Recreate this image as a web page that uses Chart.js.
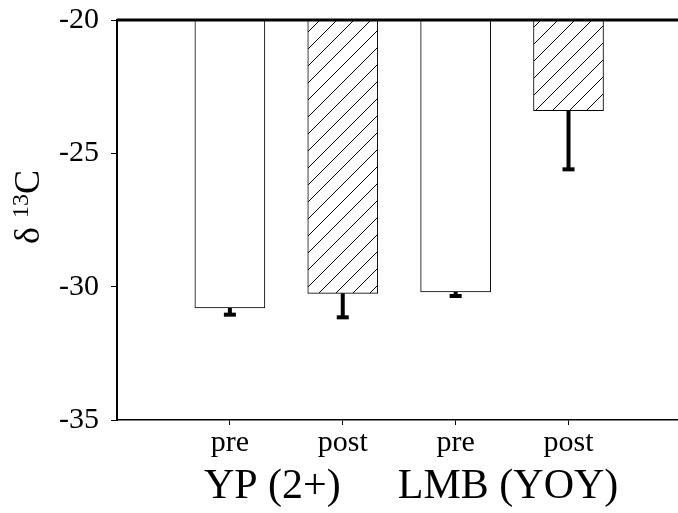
<!DOCTYPE html>
<html>
<head>
<meta charset="utf-8">
<script src="https://cdn.jsdelivr.net/npm/chart.js@4.4.0/dist/chart.umd.min.js"></script>
<style>
  html, body { margin: 0; padding: 0; background: #fff; }
  #wrap { width: 678px; height: 513px; }
</style>
</head>
<body>
<div id="wrap"><canvas id="isoChart" width="678" height="513"></canvas></div>
<script>
// Data
const categories = ["pre", "post", "pre", "post"];
const groups = ["YP (2+)", "LMB (YOY)"];
const means = [-30.8, -30.25, -30.2, -23.4];
const errLow = [-31.05, -31.15, -30.35, -25.6];
const yTicks = [-35, -30, -25, -20];
const hatched = [false, true, false, true];

const serif = "'Liberation Serif', 'Times New Roman', serif";

// diagonal hatch for the "post" bars
function makeHatch() {
  const s = 17;
  const c = document.createElement("canvas");
  c.width = s; c.height = s;
  const g = c.getContext("2d");
  g.fillStyle = "#fff";
  g.fillRect(0, 0, s, s);
  g.strokeStyle = "#000";
  g.lineWidth = 1;
  g.beginPath();
  g.moveTo(-1, s + 1); g.lineTo(s + 1, -1);
  g.moveTo(-1, 1); g.lineTo(1, -1);
  g.moveTo(s - 1, s + 1); g.lineTo(s + 1, s - 1);
  g.stroke();
  return g.createPattern(c, "repeat");
}

const ctx = document.getElementById("isoChart").getContext("2d");
const hatch = makeHatch();

// error bars, baseline line at -20, group labels and y title
const extras = {
  id: "extras",
  afterDatasetsDraw(chart) {
    const c = chart.ctx, x = chart.scales.x, y = chart.scales.y, a = chart.chartArea;
    c.save();
    c.strokeStyle = "#000";
    c.fillStyle = "#000";
    means.forEach((m, i) => {
      const px = x.getPixelForValue(i + 1);
      const y1 = y.getPixelForValue(m);
      const y2 = y.getPixelForValue(errLow[i]);
      c.lineWidth = 4;
      c.beginPath();
      c.moveTo(px, y1); c.lineTo(px, y2);
      c.stroke();
      c.fillRect(px - 6, y2 - 2, 12, 4);
    });
    // thick line at the bar origin
    c.lineWidth = 3;
    c.beginPath();
    c.moveTo(a.left, y.getPixelForValue(-20));
    c.lineTo(chart.width, y.getPixelForValue(-20));
    c.stroke();
    c.restore();
  },
  afterDraw(chart) {
    const c = chart.ctx, x = chart.scales.x;
    c.save();
    c.fillStyle = "#000";
    c.textAlign = "center";
    c.textBaseline = "alphabetic";
    c.font = "42px " + serif;
    groups.forEach((g, i) => {
      const px = (x.getPixelForValue(2 * i + 1) + x.getPixelForValue(2 * i + 2)) / 2;
      c.fillText(g, px - (i === 0 ? 14 : 4), 498);
    });
    // rotated y title: delta 13C
    c.translate(39, 207);
    c.rotate(-Math.PI / 2);
    c.textAlign = "left";
    const big = "36px " + serif, small = "24px " + serif;
    c.font = big;
    const w1 = c.measureText("\u03b4 ").width;
    const w3 = c.measureText("C").width;
    c.font = small;
    const w2 = c.measureText("13").width;
    let sx = -(w1 + w2 + w3) / 2;
    c.font = big;
    c.fillText("\u03b4 ", sx, 0); sx += w1;
    c.font = small;
    c.fillText("13", sx, -11); sx += w2;
    c.font = big;
    c.fillText("C", sx, 0);
    c.restore();
  }
};

new Chart(ctx, {
  type: "bar",
  data: {
    datasets: [
      {
        data: categories.map((c, i) => ({ x: i + 1, y: [-20, means[i]] })),
        backgroundColor: hatched.map((h) => (h ? hatch : "#fff")),
        borderColor: "#000",
        borderWidth: 1,
        borderSkipped: false,
        barThickness: 70,
      },
    ],
  },
  options: {
    responsive: false,
    animation: false,
    layout: { padding: { top: 20, right: 0, left: 0, bottom: 0 } },
    plugins: {
      legend: { display: false },
      tooltip: { enabled: false },
    },
    scales: {
      x: {
        type: "linear",
        min: 0,
        max: 4.97,
        offset: false,
        afterBuildTicks: (s) => { s.ticks = categories.map((c, i) => ({ value: i + 1 })); },
        afterFit: (s) => { s.height = 93; s.paddingLeft = 0; s.paddingRight = 0; },
        grid: { display: true, offset: false, drawOnChartArea: false, color: "#000", tickLength: 5, lineWidth: 1 },
        border: { display: true, color: "#000", width: 1.5 },
        ticks: {
          color: "#000",
          font: { family: serif, size: 30 },
          padding: 0,
          autoSkip: false,
          maxRotation: 0,
          callback: (v) => categories[v - 1] || "",
        },
      },
      y: {
        min: -35,
        max: -20,
        afterBuildTicks: (s) => { s.ticks = yTicks.map((v) => ({ value: v })); },
        afterFit: (s) => { s.width = 117; s.paddingTop = 0; s.paddingBottom = 0; },
        grid: { display: true, drawOnChartArea: false, color: "#000", tickLength: 6, lineWidth: 1 },
        border: { display: true, color: "#000", width: 2 },
        ticks: {
          color: "#000",
          font: { family: serif, size: 30 },
          padding: 12,
        },
      },
    },
  },
  plugins: [extras],
});
</script>
</body>
</html>
